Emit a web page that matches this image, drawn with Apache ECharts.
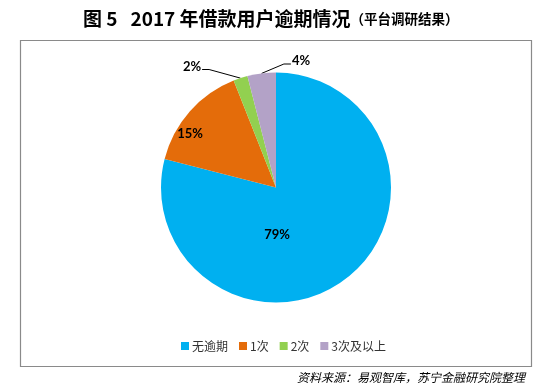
<!DOCTYPE html>
<html>
<head>
<meta charset="utf-8">
<script src="https://cdn.jsdelivr.net/npm/echarts@6/dist/echarts.min.js"></script>
<style>
html,body{margin:0;padding:0;background:#fff;}
#main{width:547px;height:389px;}
</style>
</head>
<body>
<div id="main"></div>
<script>
var categories = ['无逾期', '1次', '2次', '3次及以上'];
var values = [79, 15, 2, 4];
var colors = ['#00B0F0', '#E46C0A', '#92D050', '#B3A2C7'];
var titleMain = '图 5   2017 年借款用户逾期情况';
var titleSub = '（平台调研结果）';
var sourceText = '资料来源：易观智库，苏宁金融研究院整理';

var CX = 276, CY = 187.5, R = 115;
// label placement offsets from the pie centre (layout only)
var labelOffsets = [[1, 47.5], [-86, -53.5], [-84, -121], [25, -126.5]];

var total = values.reduce(function (a, b) { return a + b; }, 0);
function midAngle(idx) {
  var before = 0;
  for (var i = 0; i < idx; i++) before += values[i];
  return (before + values[idx] / 2) / total * Math.PI * 2;
}

var chart = echarts.init(document.getElementById('main'), null, {renderer: 'canvas'});

var data = categories.map(function (c, i) {
  var outside = values[i] < 10;
  return {
    name: c,
    value: values[i],
    itemStyle: {color: colors[i]},
    label: {position: outside ? 'outside' : 'inside'},
    labelLine: {show: outside}
  };
});

chart.setOption({
  animation: false,
  title: [{
    text: '{a|' + titleMain + '}{b|' + titleSub + '}',
    left: 78,
    top: 4,
    textStyle: {
      rich: {
        a: {fontSize: 19, fontWeight: 'bold', color: '#000', fontFamily: 'Noto Sans CJK SC'},
        b: {fontSize: 13.5, fontWeight: 'bold', color: '#000', fontFamily: 'Noto Sans CJK SC'}
      }
    }
  }, {
    text: sourceText,
    right: 17,
    top: 366,
    textStyle: {fontSize: 12, fontStyle: 'italic', fontWeight: 'normal', color: '#000', fontFamily: 'Noto Sans CJK SC'}
  }],
  graphic: [{
    type: 'rect',
    shape: {x: 20.5, y: 40.5, width: 511, height: 326},
    style: {fill: 'none', stroke: '#8a8a8a', lineWidth: 1.2},
    silent: true
  }],
  legend: {
    data: categories,
    left: 176,
    top: 335,
    icon: 'rect',
    itemWidth: 8,
    itemHeight: 8,
    itemGap: 11,
    textStyle: {fontSize: 12, color: '#333', fontFamily: 'Noto Sans CJK SC', padding: [0, 0, 0, -2]}
  },
  series: [{
    type: 'pie',
    center: [CX, CY],
    radius: R,
    startAngle: 90,
    clockwise: true,
    avoidLabelOverlap: false,
    itemStyle: {borderWidth: 0},
    emphasis: {disabled: true},
    label: {
      show: true,
      formatter: '{c}%',
      fontSize: 13,
      fontWeight: 'bold',
      color: '#000',
      fontFamily: 'Lato'
    },
    labelLine: {
      show: true,
      length: 10,
      length2: 6,
      lineStyle: {color: '#000', width: 1}
    },
    labelLayout: function (params) {
      var i = params.dataIndex;
      var off = labelOffsets[i];
      var lx = CX + off[0], ly = CY + off[1];
      var res = {x: lx, y: ly, align: 'center', verticalAlign: 'middle'};
      if (values[i] < 10) {
        var a = midAngle(i);
        var px = CX + R * Math.sin(a), py = CY - R * Math.cos(a);
        var w = params.labelRect.width;
        var ax, bx, ay = ly + 3;
        if (lx < CX) { ax = lx + w / 2 + 1; bx = ax + 7; }
        else { ax = lx - w / 2 - 1; bx = ax - 7; }
        res.labelLinePoints = [[px, py], [bx, ay], [ax, ay]];
      }
      return res;
    },
    data: data
  }]
});
</script>
</body>
</html>
